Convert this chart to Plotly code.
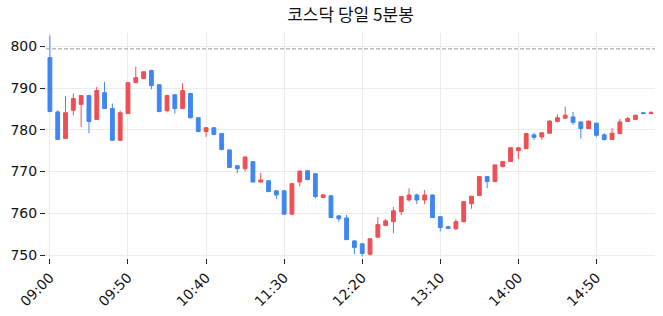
import plotly.graph_objects as go

times = [f"{(540 + 5*i)//60:02d}:{(540 + 5*i)%60:02d}" for i in range(78)]

opens = [797.3, 784.3, 777.9, 784.7, 786.1, 788.2, 782.5, 788.9, 785.1, 777.5,
         783.9, 791.3, 792.3, 794.2, 790.8, 784.6, 788.4, 785.1, 788.7, 782.9,
         779.6, 780.5, 779.1, 775.2, 771.4, 770.7, 772.4, 767.5, 767.8, 765.4,
         765.4, 759.8, 767.5, 770.2, 769.5, 763.8, 764.2, 759.4, 758.9, 753.4,
         752.7, 750.2, 754.3, 757.1, 758.0, 760.4, 763.2, 764.4, 763.2, 764.4,
         759.2, 756.8, 756.3, 758.0, 762.3, 764.3, 768.8, 767.6, 771.2, 772.4,
         775.0, 775.5, 778.8, 778.3, 779.2, 782.0, 782.8, 783.1, 781.9, 780.3,
         781.6, 778.8, 777.7, 779.1, 782.0, 782.5, 784.1, 783.9]
highs = [802.6, 784.7, 788.1, 788.7, 788.3, 788.4, 790.3, 791.5, 786.3, 784.6,
         791.4, 795.1, 794.0, 794.4, 791.0, 788.4, 788.6, 791.2, 788.9, 783.0,
         780.6, 780.6, 779.2, 775.3, 771.6, 773.6, 772.5, 769.7, 767.9, 765.5,
         765.6, 767.3, 770.3, 770.3, 769.6, 764.7, 764.3, 759.5, 759.6, 753.6,
         752.8, 754.0, 759.1, 758.6, 761.5, 764.1, 766.0, 764.7, 765.6, 764.5,
         759.3, 757.0, 758.6, 762.9, 764.2, 768.9, 768.9, 771.7, 772.5, 775.8,
         775.8, 779.2, 779.3, 779.4, 782.3, 783.7, 785.6, 784.3, 782.0, 782.2,
         781.7, 779.2, 780.4, 782.6, 783.1, 783.6, 784.2, 784.5]
lows = [784.2, 777.6, 777.8, 783.5, 780.7, 779.2, 782.4, 785.0, 777.4, 777.3,
        783.8, 791.2, 792.2, 789.7, 784.2, 784.2, 783.9, 785.0, 782.7, 779.4,
        778.3, 778.7, 775.1, 770.9, 769.6, 770.0, 767.4, 767.4, 765.1, 763.4,
        759.7, 759.7, 766.5, 767.9, 763.6, 763.7, 758.9, 758.0, 753.6, 750.2,
        749.7, 749.9, 754.2, 757.0, 755.3, 759.6, 762.8, 762.2, 762.2, 758.9,
        755.7, 756.2, 756.0, 757.9, 761.1, 764.1, 766.0, 767.5, 771.0, 772.3,
        773.0, 775.4, 777.6, 777.6, 779.1, 781.8, 782.7, 781.2, 777.9, 780.2,
        778.3, 777.4, 777.6, 779.0, 781.9, 782.4, 783.9, 783.8]
closes = [784.4, 777.7, 784.1, 787.5, 788.2, 782.0, 789.4, 785.1, 777.5, 784.1,
          791.3, 792.5, 793.9, 790.6, 784.4, 788.2, 785.1, 789.4, 782.9, 779.6,
          780.5, 778.9, 775.3, 771.0, 770.7, 773.5, 767.5, 768.0, 765.2, 764.4,
          759.8, 767.1, 770.1, 768.1, 764.0, 764.4, 759.0, 758.7, 753.7, 751.8,
          750.4, 753.9, 757.3, 758.2, 760.6, 764.0, 764.4, 763.2, 764.4, 759.0,
          756.6, 756.4, 758.0, 762.8, 764.1, 768.8, 767.6, 771.6, 772.4, 775.7,
          775.7, 779.1, 778.2, 779.3, 782.1, 782.9, 783.5, 781.8, 780.3, 782.1,
          778.7, 777.7, 779.2, 781.9, 782.7, 783.5, 783.9, 784.1]

prev_close = 799.4
tick_labels = ["09:00", "09:50", "10:40", "11:30", "12:20", "13:10", "14:00", "14:50"]
y_ticks = [750, 760, 770, 780, 790, 800]

RED = "#EE4F55"
BLUE = "#3F86F3"

fig = go.Figure(go.Candlestick(
    x=times, open=opens, high=highs, low=lows, close=closes,
    increasing=dict(line=dict(color=RED, width=1), fillcolor=RED),
    decreasing=dict(line=dict(color=BLUE, width=1), fillcolor=BLUE),
    whiskerwidth=0, showlegend=False,
))
fig.add_hline(y=prev_close, line=dict(color="#9a9a9a", width=1, dash="4px,2px"))

fig.update_layout(
    width=663, height=316,
    margin=dict(l=46, r=8, t=33, b=58),
    paper_bgcolor="white", plot_bgcolor="white",
    font=dict(family="DejaVu Sans", size=14, color="#111"),
    title=dict(text="코스닥 당일 5분봉", x=0.5, xref="paper", xanchor="center",
               y=1 - 15/316, yref="container", yanchor="middle",
               font=dict(family="Noto Sans CJK KR", size=17, color="#111")),
    xaxis=dict(type="category", tickmode="array", tickvals=tick_labels, ticktext=tick_labels,
               tickangle=-45, ticks="outside", ticklen=5, tickcolor="#222",
               showgrid=True, gridcolor="#ececec", showline=False, zeroline=False,
               rangeslider=dict(visible=False), range=[-0.5, len(times) - 0.5]),
    yaxis=dict(tickmode="array", tickvals=y_ticks, range=[749.3, 803.2],
               ticks="outside", ticklen=5, tickcolor="#222",
               showgrid=True, gridcolor="#ececec", showline=False, zeroline=False),
)

fig.write_html("out.html")
